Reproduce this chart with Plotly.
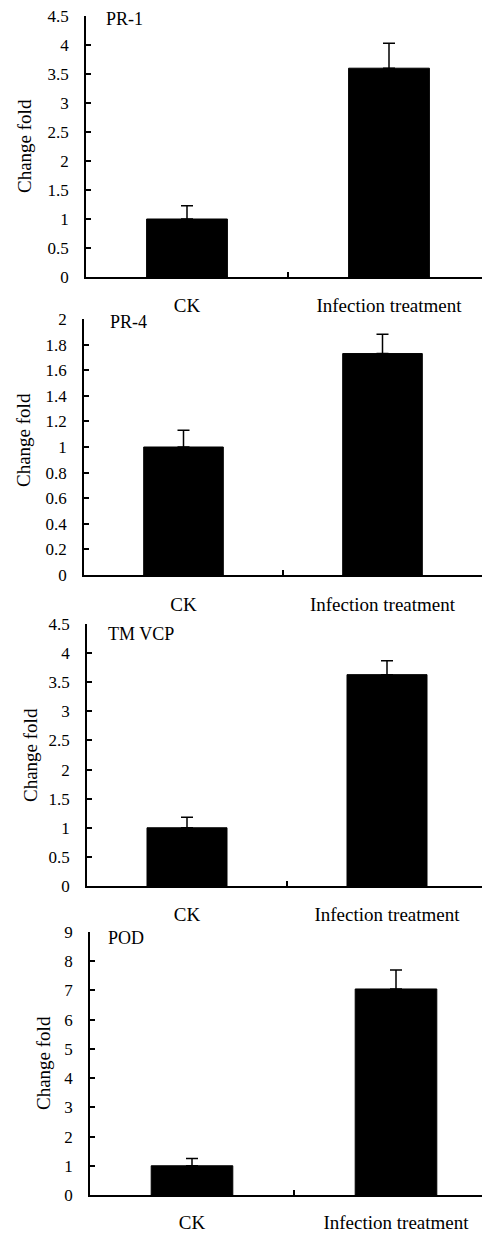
import plotly.graph_objects as go

# ---------------- data ----------------
categories = ["CK", "Infection treatment"]
gene_names = ["PR-1", "PR-4", "TM VCP", "POD"]

pr1_values = [1.00, 3.60]
pr1_errors = [0.23, 0.43]

pr4_values = [1.00, 1.73]
pr4_errors = [0.13, 0.15]

tmvcp_values = [1.00, 3.63]
tmvcp_errors = [0.18, 0.24]

pod_values = [1.00, 7.05]
pod_errors = [0.25, 0.65]

y_max = [4.5, 2.0, 4.5, 9.0]
y_step = [0.5, 0.2, 0.5, 1.0]

values = [pr1_values, pr4_values, tmvcp_values, pod_values]
errors = [pr1_errors, pr4_errors, tmvcp_errors, pod_errors]

# ---------------- layout (pixels in the page) ----------------
PAGE_W, PAGE_H = 490, 1234
OFF = 8  # default body margin of the html page
W, H = PAGE_W - OFF, PAGE_H - OFF
FONT = "Liberation Serif"

# page-pixel geometry: x0 y-axis position, x1 right end of plot, catw px per category,
# ytop / yzero rows of max value and zero
geom = [
    dict(x0=86, x1=490, catw=202, ytop=16, yzero=277, stand=10, tx=25, ty=146, lx=104, ly=19),
    dict(x0=84, x1=482, catw=199, ytop=319, yzero=575, stand=11, tx=24, ty=440, lx=108, ly=322),
    dict(x0=87, x1=486, catw=200, ytop=624, yzero=886, stand=10, tx=30, ty=755, lx=106, ly=634),
    dict(x0=90, x1=490, catw=204, ytop=932, yzero=1195, stand=9, tx=43, ty=1063, lx=106, ly=938),
]


def fx(px):
    return min(1.0, max(0.0, (px - OFF) / W))


def fy(py):
    return min(1.0, max(0.0, 1 - (py - OFF) / H))


fig = go.Figure()
annotations = []
layout = {}

for i, g in enumerate(geom):
    n = i + 1
    xa = "x" if n == 1 else f"x{n}"
    ya = "y" if n == 1 else f"y{n}"
    fig.add_trace(go.Bar(
        x=categories,
        y=values[i],
        width=0.4,
        marker=dict(color="black", line=dict(color="black", width=1)),
        error_y=dict(type="data", array=errors[i], arrayminus=[0, 0], symmetric=False,
                     color="black", thickness=1.5, width=6),
        xaxis=xa, yaxis=ya,
        showlegend=False,
    ))
    x1 = min(g["x1"], PAGE_W)
    xend = -0.5 + (x1 - g["x0"]) / g["catw"]
    xkey = "xaxis" if n == 1 else f"xaxis{n}"
    ykey = "yaxis" if n == 1 else f"yaxis{n}"
    layout[xkey] = dict(
        domain=[fx(g["x0"]), fx(x1)],
        anchor=ya,
        type="category",
        range=[-0.5, xend],
        tickson="boundaries",
        ticks="inside", ticklen=5, tickwidth=1.5, tickcolor="black",
        showline=True, linecolor="black", linewidth=1.5,
        showgrid=False, zeroline=False,
        tickfont=dict(family=FONT, size=19, color="black"),
        ticklabelstandoff=g["stand"],
        ticklabeloverflow="allow",
        automargin=False,
        fixedrange=True,
    )
    layout[ykey] = dict(
        domain=[fy(g["yzero"]), fy(g["ytop"])],
        anchor=xa,
        range=[0, y_max[i]],
        dtick=y_step[i], tick0=0,
        ticks="inside", ticklen=5, tickwidth=1.5, tickcolor="black",
        showline=True, linecolor="black", linewidth=1.5,
        showgrid=False, zeroline=False,
        tickfont=dict(family=FONT, size=17, color="black"),
        ticklabelstandoff=12,
        ticklabeloverflow="allow",
        automargin=False,
        fixedrange=True,
    )
    annotations.append(dict(
        text="Change fold", textangle=-90,
        xref="paper", yref="paper",
        x=fx(g["tx"]), y=fy(g["ty"]),
        xanchor="center", yanchor="middle", showarrow=False,
        font=dict(family=FONT, size=19, color="black"),
    ))
    annotations.append(dict(
        text=gene_names[i],
        xref="paper", yref="paper",
        x=fx(g["lx"]), y=fy(g["ly"]),
        xanchor="left", yanchor="middle", showarrow=False,
        font=dict(family=FONT, size=18, color="black"),
    ))

fig.update_layout(
    width=W, height=H,
    margin=dict(l=0, r=0, t=0, b=0),
    paper_bgcolor="white", plot_bgcolor="white",
    bargap=0.6,
    annotations=annotations,
    **layout,
)

fig.write_html("out.html")
